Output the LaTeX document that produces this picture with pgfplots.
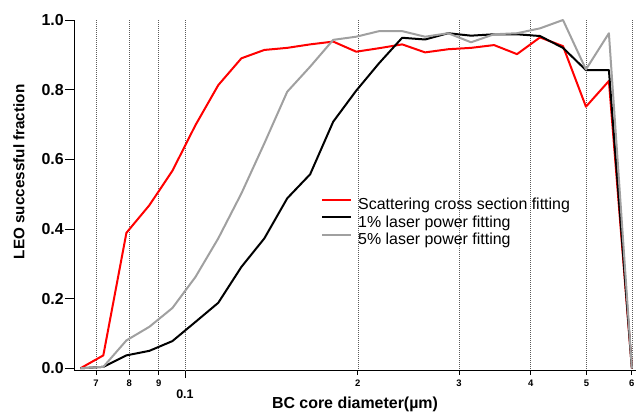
\documentclass[border=0pt]{standalone}
\usepackage{pgfplots}
\pgfplotsset{compat=1.18}
\usepackage{fontspec}
\setmainfont{Liberation Sans}
\definecolor{redline}{RGB}{255,0,0}
\definecolor{grayline}{RGB}{160,160,160}
\definecolor{gridc}{RGB}{90,90,90}
\begin{document}
\begin{tikzpicture}
\begin{axis}[
  scale only axis, width=562bp, height=350.7bp,
  xmode=log, xmin=0.0641, xmax=0.61, ymin=-0.007, ymax=1.0,
  axis x line=bottom, axis y line=left,
  axis line style={-, line width=0.8pt},
  tick align=outside,
  xtick={0.07,0.08,0.09,0.2,0.3,0.4,0.5,0.6},
  xticklabels={7,8,9,2,3,4,5,6},
  minor xtick={},
  x tick style={/pgfplots/major tick length=4bp, line width=0.8pt, black},
  y tick style={/pgfplots/major tick length=9bp, line width=0.8pt, black},
  x tick label style={font=\fontsize{9.5}{9.5}\selectfont\bfseries, yshift=-1.5bp},
  extra x ticks={0.1}, extra x tick labels={0.1},
  extra x tick style={grid=major, major tick length=7.5bp,
     x tick style={/pgfplots/major tick length=7.5bp},
     x tick label style={font=\fontsize{12.5}{12.5}\selectfont\bfseries, yshift=-6.5bp}},
  ytick={0,0.2,0.4,0.6,0.8,1.0},
  yticklabel style={font=\fontsize{16}{16}\selectfont\bfseries, xshift=-2.5bp,
     /pgf/number format/.cd, fixed, fixed zerofill, precision=1, assume math mode=true},
  xmajorgrids,
  major grid style={gridc, line width=0.6bp, dash pattern=on 1bp off 1bp},
  xlabel={BC core diameter(µm)},
  xlabel style={font=\fontsize{16}{16}\selectfont\bfseries, at={(axis description cs:0.5,0)}, anchor=center, yshift=-34bp},
  ylabel={LEO successful fraction},
  ylabel style={font=\fontsize{15.3}{15.3}\selectfont\bfseries, at={(axis description cs:-0.098,0.567)}, anchor=center},
  legend style={at={(rel axis cs:0.4395,0.495)}, anchor=north west, draw=none, fill=none,
     font=\fontsize{16}{16}\selectfont, inner sep=0pt, row sep=1.7bp, column sep=6bp,
     nodes={inner sep=0pt, text height=12bp, text depth=4bp}},
  legend cell align=left,
  legend image code/.code={\draw[#1, line width=2bp] (0bp,5.7bp) -- (29bp,5.7bp);},
  every axis plot/.append style={line width=2bp, line join=round},
]
\addplot[redline] coordinates {
(0.0658,0.0) (0.0721,0.037) (0.0791,0.389) (0.0867,0.468) (0.0951,0.567)
(0.1043,0.698) (0.1143,0.813) (0.1254,0.890) (0.1375,0.914) (0.1507,0.920)
(0.1652,0.930) (0.1812,0.938) (0.1987,0.909) (0.2178,0.919) (0.2389,0.930)
(0.2619,0.907) (0.2872,0.916) (0.3149,0.920) (0.3453,0.928) (0.3786,0.902)
(0.4151,0.950) (0.4552,0.925) (0.4991,0.751) (0.5472,0.825) (0.6,0.0)};
\addlegendentry{Scattering cross section fitting}
\addplot[black] coordinates {
(0.0658,0.0) (0.0721,0.004) (0.0791,0.037) (0.0867,0.050) (0.0951,0.078)
(0.1043,0.133) (0.1143,0.188) (0.1254,0.291) (0.1375,0.373) (0.1507,0.488)
(0.1652,0.557) (0.1812,0.708) (0.1987,0.797) (0.2178,0.876) (0.2389,0.949)
(0.2619,0.944) (0.2872,0.962) (0.3149,0.955) (0.3453,0.959) (0.3786,0.959)
(0.4151,0.954) (0.4552,0.920) (0.4991,0.856) (0.5472,0.856) (0.6,0.0)};
\addlegendentry{1\% laser power fitting}
\addplot[grayline] coordinates {
(0.0658,0.0) (0.0721,0.004) (0.0791,0.080) (0.0867,0.119) (0.0951,0.173)
(0.1043,0.262) (0.1143,0.373) (0.1254,0.502) (0.1375,0.646) (0.1507,0.794)
(0.1652,0.866) (0.1812,0.943) (0.1987,0.952) (0.2178,0.968) (0.2389,0.968)
(0.2619,0.952) (0.2872,0.962) (0.3149,0.936) (0.3453,0.959) (0.3786,0.962)
(0.4151,0.976) (0.4552,1.0) (0.4991,0.858) (0.5472,0.962) (0.6,0.0)};
\addlegendentry{5\% laser power fitting}
\end{axis}
\pgfresetboundingbox
\path (-74bp,-41.3bp) rectangle (563bp,370.7bp);
\end{tikzpicture}
\end{document}
